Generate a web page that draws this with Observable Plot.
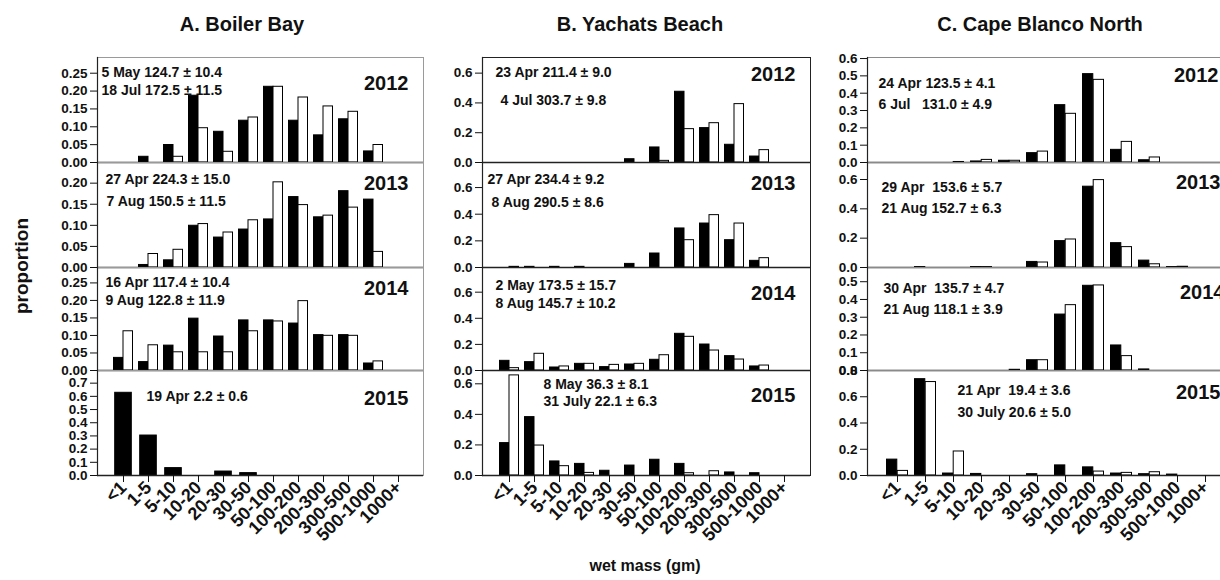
<!DOCTYPE html>
<html><head><meta charset="utf-8">
<script src="https://cdn.jsdelivr.net/npm/d3@7"></script>
<script src="https://cdn.jsdelivr.net/npm/@observablehq/plot@0.6"></script>
<style>
html,body{margin:0;padding:0;background:#fff;overflow:hidden;}
#chart{position:relative;width:1220px;height:580px;overflow:hidden;font-family:"Liberation Sans",Arial,sans-serif;color:#111;}
.lbl{position:absolute;font-weight:bold;white-space:nowrap;font-family:"Liberation Sans",Arial,sans-serif;color:#111;}
</style></head><body><div id="chart"></div>
<script>
// ---------- data ----------
const categories = ["<1","1-5","5-10","10-20","20-30","30-50","50-100","100-200","200-300","300-500","500-1000","1000+"];
const years = ["2012","2013","2014","2015"];
const sites = ["A. Boiler Bay","B. Yachats Beach","C. Cape Blanco North"];

// A. Boiler Bay (first sample = black, second sample = white)
const boiler2012First  = [0, 0.016, 0.049, 0.187, 0.086, 0.117, 0.212, 0.117, 0.076, 0.121, 0.031, 0];
const boiler2012Second = [0, 0, 0.016, 0.096, 0.030, 0.126, 0.212, 0.182, 0.157, 0.142, 0.049, 0];
const boiler2013First  = [0, 0.006, 0.017, 0.099, 0.071, 0.090, 0.114, 0.167, 0.119, 0.181, 0.161, 0];
const boiler2013Second = [0, 0.032, 0.042, 0.103, 0.083, 0.112, 0.202, 0.148, 0.123, 0.142, 0.037, 0];
const boiler2014First  = [0.036, 0.024, 0.071, 0.148, 0.097, 0.143, 0.143, 0.134, 0.101, 0.101, 0.020, 0];
const boiler2014Second = [0.112, 0.072, 0.052, 0.052, 0.052, 0.112, 0.140, 0.198, 0.099, 0.099, 0.026, 0];
const boiler2015First  = [0.627, 0.303, 0.056, 0, 0.030, 0.018, 0, 0, 0, 0, 0, 0];
const boiler2015Second = null;

// B. Yachats Beach
const yachats2012First  = [0, 0, 0, 0, 0, 0.022, 0.101, 0.475, 0.231, 0.119, 0.040, 0];
const yachats2012Second = [0, 0, 0, 0, 0, 0, 0.011, 0.224, 0.264, 0.392, 0.083, 0];
const yachats2013First  = [0, 0.005, 0.005, 0.005, 0, 0.027, 0.105, 0.293, 0.330, 0.205, 0.050, 0];
const yachats2013Second = [0.005, 0, 0, 0, 0, 0, 0, 0.205, 0.393, 0.330, 0.070, 0];
const yachats2014First  = [0.074, 0.064, 0.023, 0.051, 0.026, 0.046, 0.082, 0.281, 0.199, 0.110, 0.031, 0];
const yachats2014Second = [0.018, 0.128, 0.031, 0.051, 0.043, 0.051, 0.117, 0.258, 0.153, 0.084, 0.038, 0];
const yachats2015First  = [0.212, 0.382, 0.092, 0.076, 0.031, 0.065, 0.103, 0.076, 0, 0.020, 0.015, 0];
const yachats2015Second = [0.655, 0.196, 0.061, 0.017, 0, 0, 0, 0.015, 0.028, 0, 0, 0];

// C. Cape Blanco North
const blanco2012First  = [0, 0, 0, 0.006, 0.010, 0.054, 0.331, 0.510, 0.073, 0.013, 0, 0];
const blanco2012Second = [0, 0, 0.003, 0.015, 0.010, 0.063, 0.281, 0.477, 0.119, 0.029, 0, 0];
const blanco2013First  = [0, 0.003, 0, 0.003, 0, 0.038, 0.180, 0.551, 0.166, 0.047, 0.003, 0];
const blanco2013Second = [0, 0, 0, 0.003, 0, 0.034, 0.191, 0.596, 0.139, 0.022, 0.005, 0];
const blanco2014First  = [0, 0, 0, 0, 0, 0.058, 0.315, 0.477, 0.141, 0.006, 0, 0];
const blanco2014Second = [0, 0, 0, 0, 0.004, 0.058, 0.368, 0.479, 0.081, 0, 0, 0];
const blanco2015First  = [0.121, 0.734, 0.015, 0.012, 0, 0.010, 0.077, 0.062, 0.015, 0.010, 0.007, 0];
const blanco2015Second = [0.035, 0.712, 0.183, 0, 0, 0, 0, 0.030, 0.020, 0.025, 0, 0];

// sampling date, mean wet mass +/- SE
const boilerNotes = [
  ["5 May 124.7 ± 10.4", "18 Jul 172.5 ± 11.5"],
  ["27 Apr 224.3 ± 15.0", "7 Aug 150.5 ± 11.5"],
  ["16 Apr 117.4 ± 10.4", "9 Aug 122.8 ± 11.9"],
  ["19 Apr 2.2 ± 0.6"]
];
const yachatsNotes = [
  ["23 Apr 211.4 ± 9.0", "4 Jul 303.7 ± 9.8"],
  ["27 Apr 234.4 ± 9.2", "8 Aug 290.5 ± 8.6"],
  ["2 May 173.5 ± 15.7", "8 Aug 145.7 ± 10.2"],
  ["8 May 36.3 ± 8.1", "31 July 22.1 ± 6.3"]
];
const blancoNotes = [
  ["24 Apr 123.5 ± 4.1", "6 Jul\u00a0\u00a0\u00a0131.0 ± 4.9"],
  ["29 Apr\u00a0\u00a0153.6 ± 5.7", "21 Aug 152.7 ± 6.3"],
  ["30 Apr\u00a0\u00a0135.7 ± 4.7", "21 Aug 118.1 ± 3.9"],
  ["21 Apr\u00a0\u00a019.4 ± 3.6", "30 July 20.6 ± 5.0"]
];

// y tick labels per panel
const boilerTicks  = [[0,0.05,0.10,0.15,0.20,0.25],[0,0.05,0.10,0.15,0.20],[0,0.05,0.10,0.15,0.20,0.25],[0,0.1,0.2,0.3,0.4,0.5,0.6,0.7]];
const yachatsTicks = [[0,0.2,0.4,0.6],[0,0.2,0.4,0.6],[0,0.2,0.4,0.6],[0,0.2,0.4,0.6]];
const blancoTicks  = [[0,0.1,0.2,0.3,0.4,0.5,0.6],[0,0.2,0.4,0.6],[0,0.1,0.2,0.3,0.4,0.5],[0,0.2,0.4,0.6,0.8]];

const yAxisLabel = "proportion";
const xAxisLabel = "wet mass (gm)";

// ---------- layout ----------
const FONT = '"Liberation Sans", Arial, sans-serif';
const cols = [
  {left: 97,  right: 423,  step: 25, fmt: [".2f", ".2f", ".2f", ".1f"], frame: "#9a9a9a",
   ymax: [0.294, 0.249, 0.294, 0.796],
   first: [boiler2012First, boiler2013First, boiler2014First, boiler2015First],
   second: [boiler2012Second, boiler2013Second, boiler2014Second, boiler2015Second],
   notes: boilerNotes, ticks: boilerTicks,
   pos: [[4,15,4,33,-15,26],[8,17.5,9,39,-15,21.5],[8,15,8,33.5,-15,21.5],[49,26,49,44,-15,28.5]]},
  {left: 482, right: 810,  step: 25, fmt: [".1f", ".1f", ".1f", ".1f"], frame: "#222",
   ymax: [0.705, 0.788, 0.789, 0.687],
   first: [yachats2012First, yachats2013First, yachats2014First, yachats2015First],
   second: [yachats2012Second, yachats2013Second, yachats2014Second, yachats2015Second],
   notes: yachatsNotes, ticks: yachatsTicks,
   pos: [[13,15,18,43.5,-15,17],[5,17,9,40,-15,21],[13,18.5,13,36,-15,26.5],[61,14,61,31,-15,25.5]]},
  {left: 867, right: 1236, step: 28, fmt: [".1f", ".1f", ".1f", ".1f"], frame: "#8a8a8a",
   ymax: [0.606, 0.716, 0.58, 0.8],
   first: [blanco2012First, blanco2013First, blanco2014First, blanco2015First],
   second: [blanco2012Second, blanco2013Second, blanco2014Second, blanco2015Second],
   notes: blancoNotes, ticks: blancoTicks,
   pos: [[11,26,11,47,-18,18.5],[14,25,14,46,-16,20],[16,21,16,42,-12,25],[90,20.5,90,42,-16,22]]}
];
const rowEdges = [56.5, 161.5, 266.5, 369.5, 474.5];

const chart = document.getElementById("chart");

function rowsOf(values) {
  return categories.map((c, i) => ({cat: c, v: values[i]})).filter(d => d.v > 0);
}

cols.forEach((col, ci) => {
  years.forEach((yr, ri) => {
    const top = rowEdges[ri], bottom = rowEdges[ri + 1];
    const isBottom = ri === years.length - 1;
    const mL = 50, mR = 6, mT = 6, mB = isBottom ? 100 : 6;
    const w = col.right - col.left, h = bottom - top;
    const paddingInner = 0.2;
    const paddingOuter = (w / col.step - categories.length + paddingInner) / 2;
    const bw = col.step * (1 - paddingInner);
    const first = col.first[ri], second = col.second[ri];
    const p = col.pos[ri];
    const notes = col.notes[ri];
    const marks = [
      Plot.frame({stroke: col.frame, strokeWidth: 1})
    ];
    if (second) {
      marks.push(Plot.barY(rowsOf(first), {x: "cat", y: "v", fill: "black", stroke: "black", strokeWidth: 1, insetLeft: 0.5, insetRight: bw / 2}));
      marks.push(Plot.barY(rowsOf(second), {x: "cat", y: "v", fill: "white", stroke: "black", strokeWidth: 1, insetLeft: bw / 2, insetRight: 0.5}));
    } else {
      marks.push(Plot.barY(rowsOf(first), {x: "cat", y: "v", fill: "black", stroke: "black", strokeWidth: 1, insetLeft: 1.7, insetRight: 1.7}));
    }
    marks.push(Plot.ruleY([0], {stroke: "#222", strokeWidth: 1.5}));
    marks.push(Plot.frame({anchor: "left", stroke: "#222", strokeWidth: 1.2}));
    marks.push(Plot.axisY({ticks: col.ticks[ri], tickFormat: d3.format(col.fmt[ri]), tickSize: 7, tickPadding: 3, fontSize: 13.5, fontWeight: "bold", label: null}));
    if (isBottom) {
      marks.push(Plot.axisX({tickRotate: -45, tickSize: 7, tickPadding: 2, fontSize: 18, fontWeight: "bold", label: null}));
    }
    marks.push(Plot.text([notes[0]], {frameAnchor: "top-left", dx: p[0], dy: p[1], text: d => d, textAnchor: "start", lineAnchor: "middle", fontSize: 14, fontWeight: "bold", fill: "#111"}));
    if (notes[1]) {
      marks.push(Plot.text([notes[1]], {frameAnchor: "top-left", dx: p[2], dy: p[3], text: d => d, textAnchor: "start", lineAnchor: "middle", fontSize: 14, fontWeight: "bold", fill: "#111"}));
    }
    marks.push(Plot.text([yr], {frameAnchor: "top-right", dx: p[4], dy: p[5], text: d => d, textAnchor: "end", lineAnchor: "middle", fontSize: 20, fontWeight: "bold", fill: "#111"}));

    const svg = Plot.plot({
      width: w + mL + mR,
      height: h + mT + mB,
      marginLeft: mL, marginRight: mR, marginTop: mT, marginBottom: mB,
      x: {type: "band", domain: categories, paddingInner, paddingOuter, align: 0.5, axis: isBottom ? undefined : null, label: null},
      y: {domain: [0, col.ymax[ri]], label: null},
      style: {background: "transparent", overflow: "visible", fontFamily: FONT, fontWeight: "bold", color: "#111", maxWidth: "none"},
      marks
    });
    svg.style.position = "absolute";
    svg.style.left = (col.left - mL) + "px";
    svg.style.top = (top - mT) + "px";
    chart.appendChild(svg);
  });
});

// titles & axis labels
const titleCenters = [242, 640, 1040];
sites.forEach((s, i) => {
  const d = document.createElement("div");
  d.className = "lbl";
  d.textContent = s;
  d.style.fontSize = "20px";
  d.style.left = titleCenters[i] + "px";
  d.style.top = "24px";
  d.style.transform = "translate(-50%,-50%)";
  chart.appendChild(d);
});
const yl = document.createElement("div");
yl.className = "lbl";
yl.textContent = yAxisLabel;
yl.style.fontSize = "19px";
yl.style.left = "22px";
yl.style.top = "266px";
yl.style.transform = "translate(-50%,-50%) rotate(-90deg)";
chart.appendChild(yl);
const xl = document.createElement("div");
xl.className = "lbl";
xl.textContent = xAxisLabel;
xl.style.fontSize = "16px";
xl.style.left = "645px";
xl.style.top = "566px";
xl.style.transform = "translate(-50%,-50%)";
chart.appendChild(xl);
</script>
</body></html>
